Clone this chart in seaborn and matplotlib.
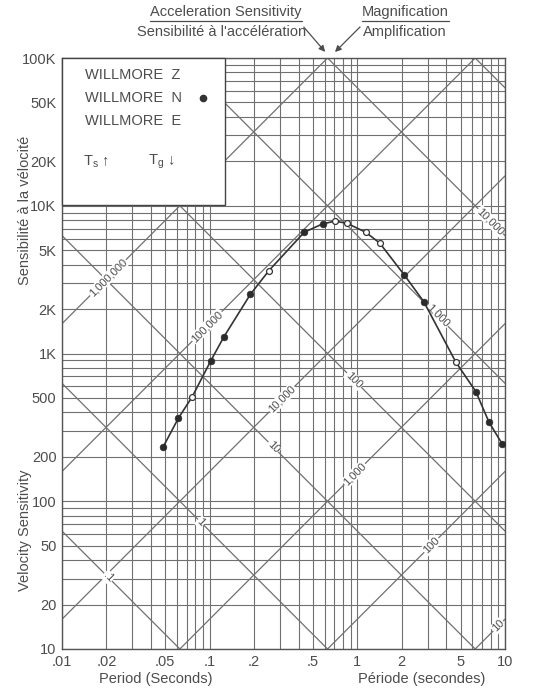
import numpy as np
import pandas as pd
import seaborn as sns
import matplotlib
matplotlib.use("Agg")
import matplotlib.pyplot as plt
from matplotlib.patches import Rectangle

# Response of the WILLMORE seismometer on tripartite paper
period = [0.0485, 0.0614, 0.0763, 0.1016, 0.125, 0.189, 0.252, 0.437, 0.582,
          0.704, 0.847, 1.14, 1.42, 2.08, 2.82, 4.65, 6.35, 7.78, 9.6]
velocity = [234, 365, 511, 890, 1300, 2520, 3640, 6620, 7540,
            7860, 7620, 6620, 5580, 3400, 2240, 873, 552, 344, 243]
filled = [1, 1, 0, 1, 1, 1, 0, 1, 1, 0, 0, 0, 0, 1, 1, 0, 1, 1, 1]

x_ticks = [0.01, 0.02, 0.05, 0.1, 0.2, 0.5, 1, 2, 5, 10]
x_tick_labels = [".01", ".02", ".05", ".1", ".2", ".5", "1", "2", "5", "10"]
y_ticks = [10, 20, 50, 100, 200, 500, 1e3, 2e3, 5e3, 1e4, 2e4, 5e4, 1e5]
y_tick_labels = ["10", "20", "50", "100", "200", "500", "1K", "2K", "5K",
                 "10K", "20K", "50K", "100K"]

# Diagonal families: magnification (rising) and acceleration sensitivity (falling)
magnifications = [10, 100, 1e3, 1e4, 1e5, 1e6, 1e7]
magnification_labels = ["10", "100", "1,000", "10,000", "100,000", "1,000,000", ""]
magnification_label_T = [9.0, 3.17, 0.96, 0.309, 0.0959, 0.0205, None]
accelerations = [0.1, 1, 10, 100, 1e3, 1e4, 1e5]
acceleration_labels = [".1", "1", "10", "100", "1,000", "10,000", ""]
acceleration_label_T = [0.0205, 0.087, 0.27, 0.95, 3.5, 8.0, None]

legend_rows = ["WILLMORE  Z", "WILLMORE  N", "WILLMORE  E"]

sns.set_style("white")
plt.rcParams["font.family"] = ["Liberation Sans", "DejaVu Sans"]
plt.rcParams["mathtext.fontset"] = "custom"
plt.rcParams["mathtext.rm"] = "Liberation Sans"
plt.rcParams["mathtext.it"] = "Liberation Sans"

INK = "#4d4d4d"
GRID = "#707070"

fig = plt.figure(figsize=(5.52, 6.9), dpi=100)
W, H = 552, 690
ax = fig.add_axes([62 / W, 41 / H, 443 / W, 591 / H])
ax.set_xscale("log")
ax.set_yscale("log")
ax.set_xlim(0.01, 10)
ax.set_ylim(10, 1e5)

# rectangular log grid
ax.set_xticks(x_ticks)
ax.set_xticklabels(x_tick_labels)
ax.set_yticks(y_ticks)
ax.set_yticklabels(y_tick_labels)
ax.xaxis.set_minor_locator(matplotlib.ticker.LogLocator(base=10, subs=np.arange(1, 10)))
ax.yaxis.set_minor_locator(matplotlib.ticker.LogLocator(base=10, subs=np.arange(1, 10)))
ax.xaxis.set_minor_formatter(matplotlib.ticker.NullFormatter())
ax.yaxis.set_minor_formatter(matplotlib.ticker.NullFormatter())
ax.grid(True, which="both", color=GRID, lw=0.8)
ax.tick_params(which="both", length=0, labelsize=10.5, colors=INK, pad=4)
for s in ax.spines.values():
    s.set_color("#555555")
    s.set_linewidth(1.0)

T = np.logspace(-2, 1, 200)
two_pi = 2 * np.pi
for m in magnifications:
    ax.plot(T, m * T / two_pi, color=GRID, lw=0.9, zorder=1)
for a in accelerations:
    ax.plot(T, a * two_pi / T, color=GRID, lw=0.9, zorder=1)

bbox = dict(facecolor="white", edgecolor="none", pad=0.6)
for m, lab, tl in zip(magnifications, magnification_labels, magnification_label_T):
    if lab and tl:
        ax.text(tl, m * tl / two_pi, lab, rotation=45, ha="center", va="center",
                fontsize=8, color=INK, bbox=bbox, zorder=2, rotation_mode="anchor")
for a, lab, tl in zip(accelerations, acceleration_labels, acceleration_label_T):
    if lab and tl:
        ax.text(tl, a * two_pi / tl, lab, rotation=-45, ha="center", va="center",
                fontsize=8, color=INK, bbox=bbox, zorder=2, rotation_mode="anchor")

# response curve and measured points
df = pd.DataFrame({"period": period, "velocity": velocity, "filled": filled})
sns.lineplot(data=df, x="period", y="velocity", ax=ax, color="#333333", lw=1.2,
             sort=True, zorder=3, legend=False)
sns.scatterplot(data=df[df.filled == 1], x="period", y="velocity", ax=ax,
                color="#2b2b2b", s=24, edgecolor="#2b2b2b", zorder=4, legend=False)
sns.scatterplot(data=df[df.filled == 0], x="period", y="velocity", ax=ax,
                facecolor="white", s=18, edgecolor="#333333", linewidth=0.9,
                zorder=4, legend=False)
ax.set_xlabel("")
ax.set_ylabel("")

# legend box in the upper left corner
box = Rectangle((62 / W, 1 - 205 / H), (225 - 62) / W, (205 - 58) / H,
                transform=fig.transFigure, facecolor="white", edgecolor="#444444",
                lw=1.0, zorder=10, clip_on=False)
ax.add_patch(box)
for i, row in enumerate(legend_rows):
    fig.text(85 / W, 1 - (75 + 23 * i) / H, row, fontsize=10.5, color=INK,
             va="center", ha="left", zorder=11)
ax.plot([203 / W], [1 - 98 / H], "o", color="#333333", ms=4.5,
        transform=fig.transFigure, clip_on=False, zorder=11)
fig.text(83 / W, 1 - 162 / H, "T$_\\mathrm{s}$ \u2191", fontsize=10.5, color=INK,
         va="center", ha="left", zorder=11)
fig.text(148 / W, 1 - 162 / H, "T$_\\mathrm{g}$ \u2193", fontsize=10.5, color=INK,
         va="center", ha="left", zorder=11)

# axis titles
fig.text(25 / W, 1 - 210 / H, "Sensibilité à la vélocité", rotation=90,
         fontsize=10.5, color=INK, ha="center", va="center")
fig.text(25 / W, 1 - 530 / H, "Velocity Sensitivity", rotation=90,
         fontsize=10.5, color=INK, ha="center", va="center")
fig.text(156 / W, 1 - 679 / H, "Period (Seconds)", fontsize=10.5, color=INK,
         ha="center", va="center")
fig.text(422 / W, 1 - 679 / H, "Période (secondes)", fontsize=10.5, color=INK,
         ha="center", va="center")

# headings of the diagonal families
fig.text(226 / W, 1 - 12 / H, "Acceleration Sensitivity", fontsize=10.5, color=INK,
         ha="center", va="center")
fig.text(222 / W, 1 - 32 / H, "Sensibilité à l'accélération", fontsize=10.5,
         color=INK, ha="center", va="center")
fig.text(405 / W, 1 - 12 / H, "Magnification", fontsize=10.5, color=INK,
         ha="center", va="center")
fig.text(405 / W, 1 - 32 / H, "Amplification", fontsize=10.5, color=INK,
         ha="center", va="center")
fig.add_artist(plt.Line2D([150 / W, 302 / W], [1 - 21 / H, 1 - 21 / H],
                          color=INK, lw=0.9))
fig.add_artist(plt.Line2D([362 / W, 449 / W], [1 - 21 / H, 1 - 21 / H],
                          color=INK, lw=0.9))
ax.annotate("", xy=(327 / W, 1 - 54 / H), xytext=(302 / W, 1 - 25 / H),
            xycoords="figure fraction", textcoords="figure fraction",
            arrowprops=dict(arrowstyle="-|>", color=INK, lw=0.9,
                            mutation_scale=9))
ax.annotate("", xy=(333 / W, 1 - 54 / H), xytext=(362 / W, 1 - 25 / H),
            xycoords="figure fraction", textcoords="figure fraction",
            arrowprops=dict(arrowstyle="-|>", color=INK, lw=0.9,
                            mutation_scale=9))

fig.savefig("out.png", dpi=100, facecolor="white")
